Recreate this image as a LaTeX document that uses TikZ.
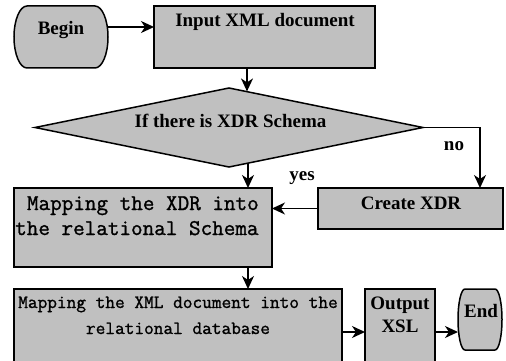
\documentclass[tikz,border=0pt]{standalone}
\usepackage{fontspec}
\setmainfont{Liberation Serif}[BoldFont={Liberation Serif Bold}]
\setmonofont{Latin Modern Mono}[FakeBold=1.2]
\usetikzlibrary{shapes.geometric,arrows.meta}
\definecolor{boxgray}{RGB}{192,192,192}
\begin{document}
\begin{tikzpicture}[x=1pt,y=-1pt,
  box/.style={draw=black, fill=boxgray, line width=1.5pt, inner sep=0pt, outer sep=0pt},
  termbox/.style={inner sep=0pt, outer sep=0pt},
  shapeline/.style={draw=black, fill=boxgray, line width=1.5pt},
  arr/.style={line width=1.6pt, -{Stealth[length=13pt,width=12pt,inset=4pt]}},
  bt/.style={font=\fontsize{19}{23}\selectfont\bfseries, inner sep=0pt},
  bigmono/.style={font=\fontsize{22.5}{25}\selectfont\ttfamily, inner sep=0pt},
  smallmono/.style={font=\fontsize{18.8}{26}\selectfont\ttfamily, inner sep=0pt}]
\useasboundingbox (0,0) rectangle (506,361);
\clip (0,0) rectangle (506,361);

% Begin terminator
\node[termbox, minimum width=94pt, minimum height=62pt] (b) at (61,37) {};
\draw[shapeline] ([xshift=13pt]b.north west) -- ([xshift=-13pt]b.north east)
  .. controls +(7.2,0) and +(0,-17.1) .. (b.east)
  .. controls +(0,17.1) and +(7.2,0) .. ([xshift=-13pt]b.south east)
  -- ([xshift=13pt]b.south west)
  .. controls +(-7.2,0) and +(0,17.1) .. (b.west)
  .. controls +(0,-17.1) and +(-7.2,0) .. cycle;
\node[bt, anchor=base] (bt) at (61,35) {Begin};

% Input XML document
\node[box, minimum width=221pt, minimum height=62pt] (in) at (264.5,37) {};
\node[bt, anchor=base] (intext) at (265,27) {Input XML document};

% Decision
\node[box, shape=diamond, minimum width=388pt, minimum height=79pt] (d) at (229,127.5) {};
\node[bt, anchor=base] (dtext) at (230.5,127) {If there is XDR Schema};

% Create XDR
\node[box, minimum width=185pt, minimum height=41pt] (cx) at (410.5,208.5) {};
\node[bt, anchor=base] (cxtext) at (411,209) {Create XDR};

% Mapping XDR
\node[box, minimum width=258pt, minimum height=79pt] (mx) at (143,227.5) {};
\node[bigmono, anchor=base west] (mx1) at (26.8,210) {Mapping the XDR into};
\node[bigmono, anchor=base west] (mx2) at (15,235) {the relational Schema};

% Mapping XML document
\node[box, minimum width=328pt, minimum height=86pt, anchor=north west] (mj) at (14,289) {};
\node[smallmono, anchor=base] (mj1) at (178,308) {Mapping the XML document into the};
\node[smallmono, anchor=base] (mj2) at (178,334) {relational database};

% Output XSL
\node[box, minimum width=70pt, minimum height=86pt, anchor=north west] (op) at (365,289) {};
\node[bt, anchor=base] (op1) at (400,309) {Output};
\node[bt, anchor=base] (op2) at (400,332) {XSL};

% End terminator
\node[termbox, minimum width=44pt, minimum height=61pt] (e) at (480,319.5) {};
\draw[shapeline] ([xshift=7pt]e.north west) -- ([xshift=-7pt]e.north east)
  .. controls +(3.9,0) and +(0,-16.8) .. (e.east)
  .. controls +(0,16.8) and +(3.9,0) .. ([xshift=-7pt]e.south east)
  -- ([xshift=7pt]e.south west)
  .. controls +(-3.9,0) and +(0,16.8) .. (e.west)
  .. controls +(0,-16.8) and +(-3.9,0) .. cycle;
\node[bt, anchor=base] (et) at (481,317) {End};

% labels
\node[bt, anchor=base] (yes) at (302,180) {yes};
\node[bt, anchor=base] (no) at (454,150) {no};

% connectors
\coordinate (d1) at (247,91.4);
\coordinate (d2) at (248,163.4);
\draw[arr] ([yshift=10pt]b.east) -- ([yshift=10pt]in.west);
\draw[arr] (in.south -| d1) -- (d1);
\draw[arr] (d2) -- (d2 |- mx.north);
\draw[arr] (d.east) -| ([xshift=69.5pt]cx.north);
\draw[arr] (cx.west) -- (cx.west -| mx.east);
\draw[arr] (d2 |- mx.south) -- (d2 |- mj.north);
\draw[arr] (mj.east) -- (op.west);
\draw[arr] (op.east) -- (op.east -| e.west);
\end{tikzpicture}
\end{document}
